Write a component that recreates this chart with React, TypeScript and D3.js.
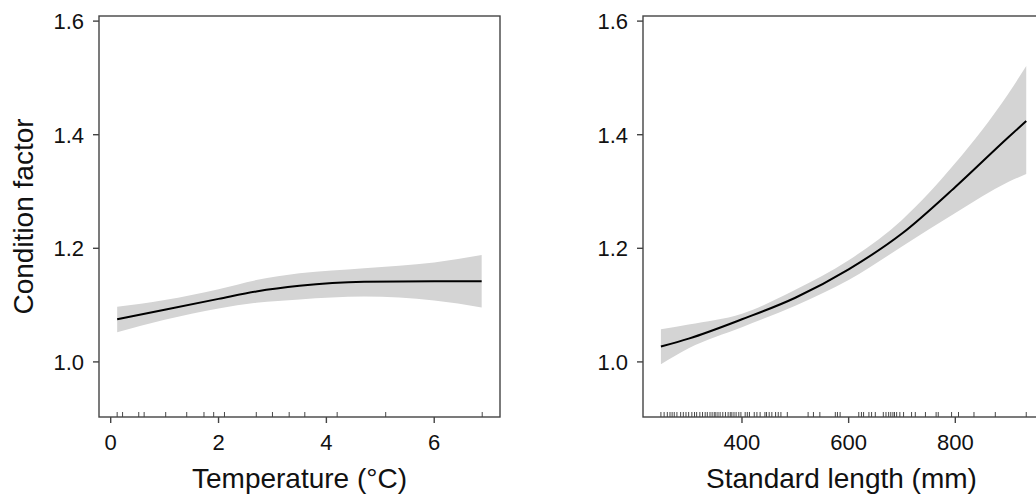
import React from 'react';
import * as d3 from 'd3';

// left panel: temperature effect
const tempX = [0.12, 1, 2, 2.7, 3.5, 4.7, 6, 6.88];
const tempFit = [1.075, 1.092, 1.111, 1.124, 1.134, 1.141, 1.142, 1.142];
const tempUpper = [1.097, 1.109, 1.128, 1.144, 1.156, 1.165, 1.175, 1.188];
const tempLower = [1.052, 1.074, 1.094, 1.104, 1.110, 1.115, 1.108, 1.096];
const tempRug = [0.12, 0.22, 0.52, 0.62, 1.02, 1.41, 1.73, 1.91, 2.11, 2.7, 3.0, 3.31, 3.6, 4.2, 5.1, 6.89];
const tempTicks = [0, 2, 4, 6];

// right panel: standard length effect
const lenX = [248, 300, 400, 500, 600, 700, 800, 900, 933];
const lenFit = [1.027, 1.041, 1.075, 1.113, 1.163, 1.226, 1.308, 1.396, 1.424];
const lenUpper = [1.0575, 1.066, 1.085, 1.127, 1.179, 1.25, 1.35, 1.473, 1.521];
const lenLower = [0.996, 1.024, 1.061, 1.099, 1.144, 1.203, 1.262, 1.317, 1.331];
const lenRug = [248, 254, 260, 265, 269, 273, 278, 285, 290, 295, 300, 306, 311, 315, 321, 326, 331, 335,
  340, 344, 348, 351, 355, 359, 364, 369, 374, 378, 381, 385, 389, 394, 398, 406, 410, 414, 423, 428,
  434, 443, 446, 451, 456, 463, 468, 473, 485, 524, 534, 546, 575, 579, 584, 619, 624, 628, 638, 643,
  650, 665, 670, 675, 679, 683, 686, 690, 696, 703, 718, 725, 744, 764, 768, 793, 806, 835, 875, 933];
const lenTicks = [400, 600, 800];

const yTicks = [1.0, 1.2, 1.4, 1.6];

const W = 1036;
const H = 495;
const TOP = 16;
const BOTTOM = 417;
const FONT = '"Liberation Sans", Arial, Helvetica, sans-serif';
const AXIS = '#444';

type PanelProps = {
  x0: number; x1: number; domain: [number, number];
  xs: number[]; fit: number[]; upper: number[]; lower: number[];
  rug: number[]; ticks: number[]; title: string; ylab?: string;
};

function Panel(p: PanelProps) {
  const x = d3.scaleLinear().domain(p.domain).range([p.x0, p.x1]);
  const y = d3.scaleLinear().domain([0.903, 1.609]).range([BOTTOM, TOP]);
  const idx = p.xs.map((_, i) => i);
  const band = d3.area<number>()
    .x(i => x(p.xs[i]))
    .y0(i => y(p.lower[i]))
    .y1(i => y(p.upper[i]))
    .curve(d3.curveMonotoneX);
  const line = d3.line<number>()
    .x(i => x(p.xs[i]))
    .y(i => y(p.fit[i]))
    .curve(d3.curveMonotoneX);
  const cx = (p.x0 + p.x1) / 2;
  return (
    <g>
      <path d={band(idx) || ''} fill="#d4d4d4" />
      <path d={line(idx) || ''} fill="none" stroke="#000" strokeWidth={2} />
      {p.rug.map((r, i) => (
        <line key={'r' + i} x1={x(r)} x2={x(r)} y1={BOTTOM} y2={BOTTOM - 5} stroke="#333" strokeWidth={0.9} />
      ))}
      <rect x={p.x0} y={TOP} width={p.x1 - p.x0} height={BOTTOM - TOP} fill="none" stroke={AXIS} strokeWidth={1.4} />
      {yTicks.map(t => (
        <g key={'y' + t}>
          <line x1={p.x0 - 6} x2={p.x0} y1={y(t)} y2={y(t)} stroke={AXIS} strokeWidth={1.4} />
          <text x={p.x0 - 15} y={y(t)} dy="0.36em" textAnchor="end" fontSize={22} fontFamily={FONT} fill="#111">
            {t.toFixed(1)}
          </text>
        </g>
      ))}
      {p.ticks.map(t => (
        <g key={'x' + t}>
          <line x1={x(t)} x2={x(t)} y1={BOTTOM} y2={BOTTOM + 6} stroke={AXIS} strokeWidth={1.4} />
          <text x={x(t)} y={449.5} textAnchor="middle" fontSize={22} fontFamily={FONT} fill="#111">{t}</text>
        </g>
      ))}
      <text x={cx} y={488} textAnchor="middle" fontSize={28} fontFamily={FONT} fill="#111">{p.title}</text>
      {p.ylab && (
        <text transform={`translate(33,${(TOP + BOTTOM) / 2}) rotate(-90)`} textAnchor="middle" fontSize={28}
          fontFamily={FONT} fill="#111">{p.ylab}</text>
      )}
    </g>
  );
}

export default function App() {
  return (
    <svg width={W} height={H} style={{ position: 'absolute', left: 0, top: 0, background: '#fff' }}>
      <Panel x0={99} x1={500} domain={[-0.217, 7.22]} xs={tempX} fit={tempFit} upper={tempUpper}
        lower={tempLower} rug={tempRug} ticks={tempTicks} title="Temperature (°C)" ylab="Condition factor" />
      <Panel x0={643} x1={1040} domain={[214.4, 958.8]} xs={lenX} fit={lenFit} upper={lenUpper}
        lower={lenLower} rug={lenRug} ticks={lenTicks} title="Standard length (mm)" />
    </svg>
  );
}
